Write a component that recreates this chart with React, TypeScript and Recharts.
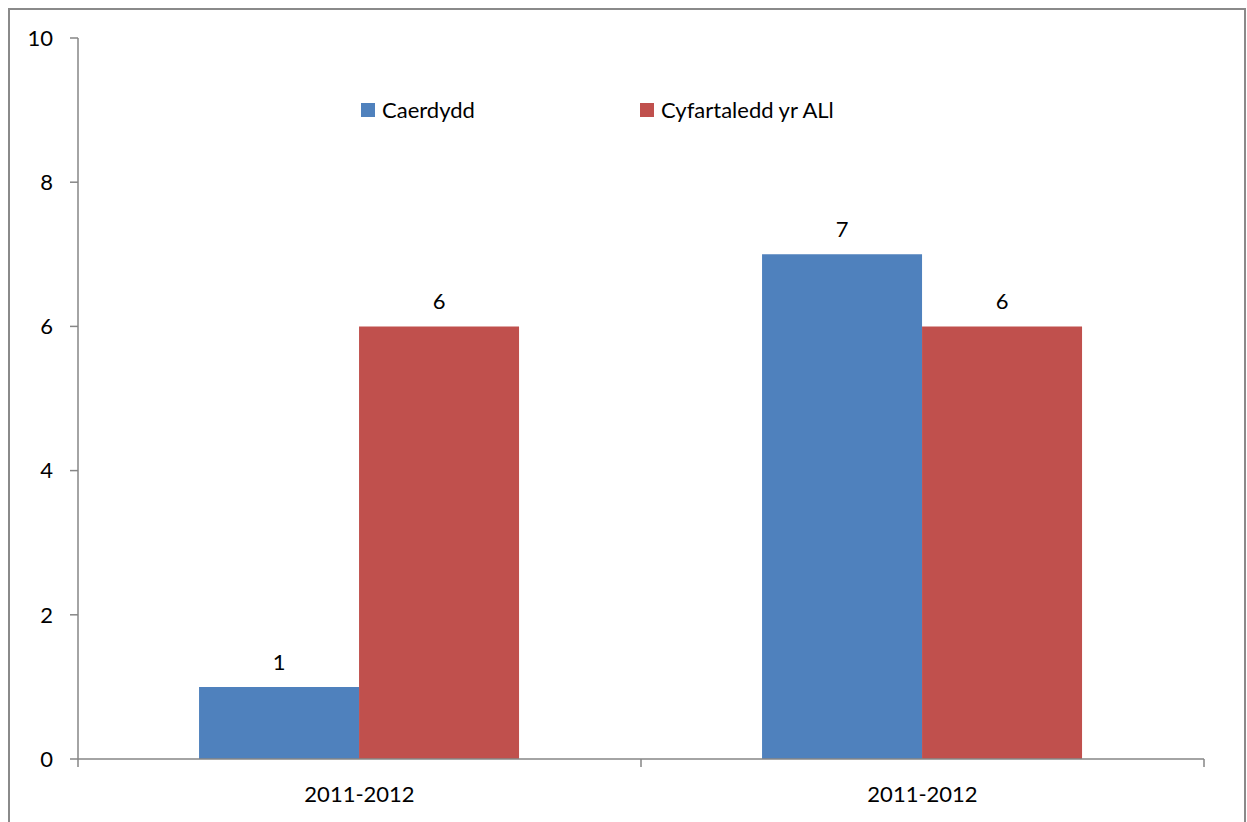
import React from 'react';
import { BarChart, Bar, XAxis, YAxis, Legend, LabelList } from 'recharts';

const categories = ['2011-2012', '2011-2012'];
const caerdydd = [1, 7];
const cyfartaledd = [6, 6];
const yTicks = [0, 2, 4, 6, 8, 10];

const seriesNames = ['Caerdydd', 'Cyfartaledd yr ALl'];
const seriesColors = ['#4F81BD', '#C0504D'];

const FONT = 'Lato, "Open Sans", sans-serif';
const AXIS_GREY = '#868686';

const data = categories.map((name, i) => ({
  name,
  caerdydd: caerdydd[i],
  cyfartaledd: cyfartaledd[i],
}));

// category label in the middle, tick marks on the band edges (Excel style)
const XTick = (props: any) => {
  const { x, y, payload, index } = props;
  const half = payload && payload.offset ? payload.offset : 0;
  const isLast = index === categories.length - 1;
  return (
    <g>
      <line x1={x - half} y1={y} x2={x - half} y2={y + 8} stroke={AXIS_GREY} strokeWidth={1.5} />
      {isLast && (
        <line x1={x + half} y1={y} x2={x + half} y2={y + 8} stroke={AXIS_GREY} strokeWidth={1.5} />
      )}
      <text x={x} y={y + 43} textAnchor="middle" fill="#000" fontSize={22} fontFamily={FONT}>
        {payload.value}
      </text>
    </g>
  );
};

const renderLegend = () => (
  <div style={{ display: 'flex', fontFamily: FONT, fontSize: 22, color: '#000' }}>
    {seriesNames.map((name, i) => (
      <div key={name} style={{ width: 279, display: 'flex', alignItems: 'center' }}>
        <span
          style={{
            display: 'inline-block',
            width: 14,
            height: 14,
            background: seriesColors[i],
            marginRight: 7,
          }}
        />
        <span>{name}</span>
      </div>
    ))}
  </div>
);

const App: React.FC = () => {
  return (
    <div style={{ position: 'absolute', left: 0, top: 0, width: 1247, height: 822, background: '#fff' }}>
      <div
        style={{
          position: 'absolute',
          left: 8,
          top: 8,
          width: 1234,
          height: 812,
          border: '2px solid #8a8a8a',
          borderBottom: 'none',
        }}
      />
      <div style={{ position: 'absolute', left: 0, top: 0 }}>
        <BarChart
          width={1247}
          height={822}
          data={data}
          margin={{ top: 38, right: 43, bottom: 0, left: 18 }}
          barCategoryGap="21.5%"
          barGap={0}
        >
          <XAxis
            dataKey="name"
            height={63}
            axisLine={{ stroke: AXIS_GREY, strokeWidth: 1.5 }}
            tickLine={false}
            tickSize={0}
            tickMargin={0}
            tick={<XTick />}
            interval={0}
          />
          <YAxis
            width={60}
            domain={[0, 10]}
            ticks={yTicks}
            interval={0}
            axisLine={{ stroke: AXIS_GREY, strokeWidth: 1.5 }}
            tickLine={{ stroke: AXIS_GREY, strokeWidth: 1.5 }}
            tickSize={8}
            tickMargin={17}
            tick={{ fill: '#000', fontSize: 22, fontFamily: FONT }}
          />
          <Legend
            content={renderLegend}
            wrapperStyle={{ position: 'absolute', top: 96, left: 361, width: 600, height: 0, overflow: 'visible' }}
          />
          <Bar dataKey="caerdydd" name={seriesNames[0]} fill={seriesColors[0]} isAnimationActive={false}>
            <LabelList dataKey="caerdydd" position="top" offset={17} fill="#000" fontSize={22} fontFamily={FONT} />
          </Bar>
          <Bar dataKey="cyfartaledd" name={seriesNames[1]} fill={seriesColors[1]} isAnimationActive={false}>
            <LabelList dataKey="cyfartaledd" position="top" offset={17} fill="#000" fontSize={22} fontFamily={FONT} />
          </Bar>
        </BarChart>
      </div>
    </div>
  );
};

export default App;
